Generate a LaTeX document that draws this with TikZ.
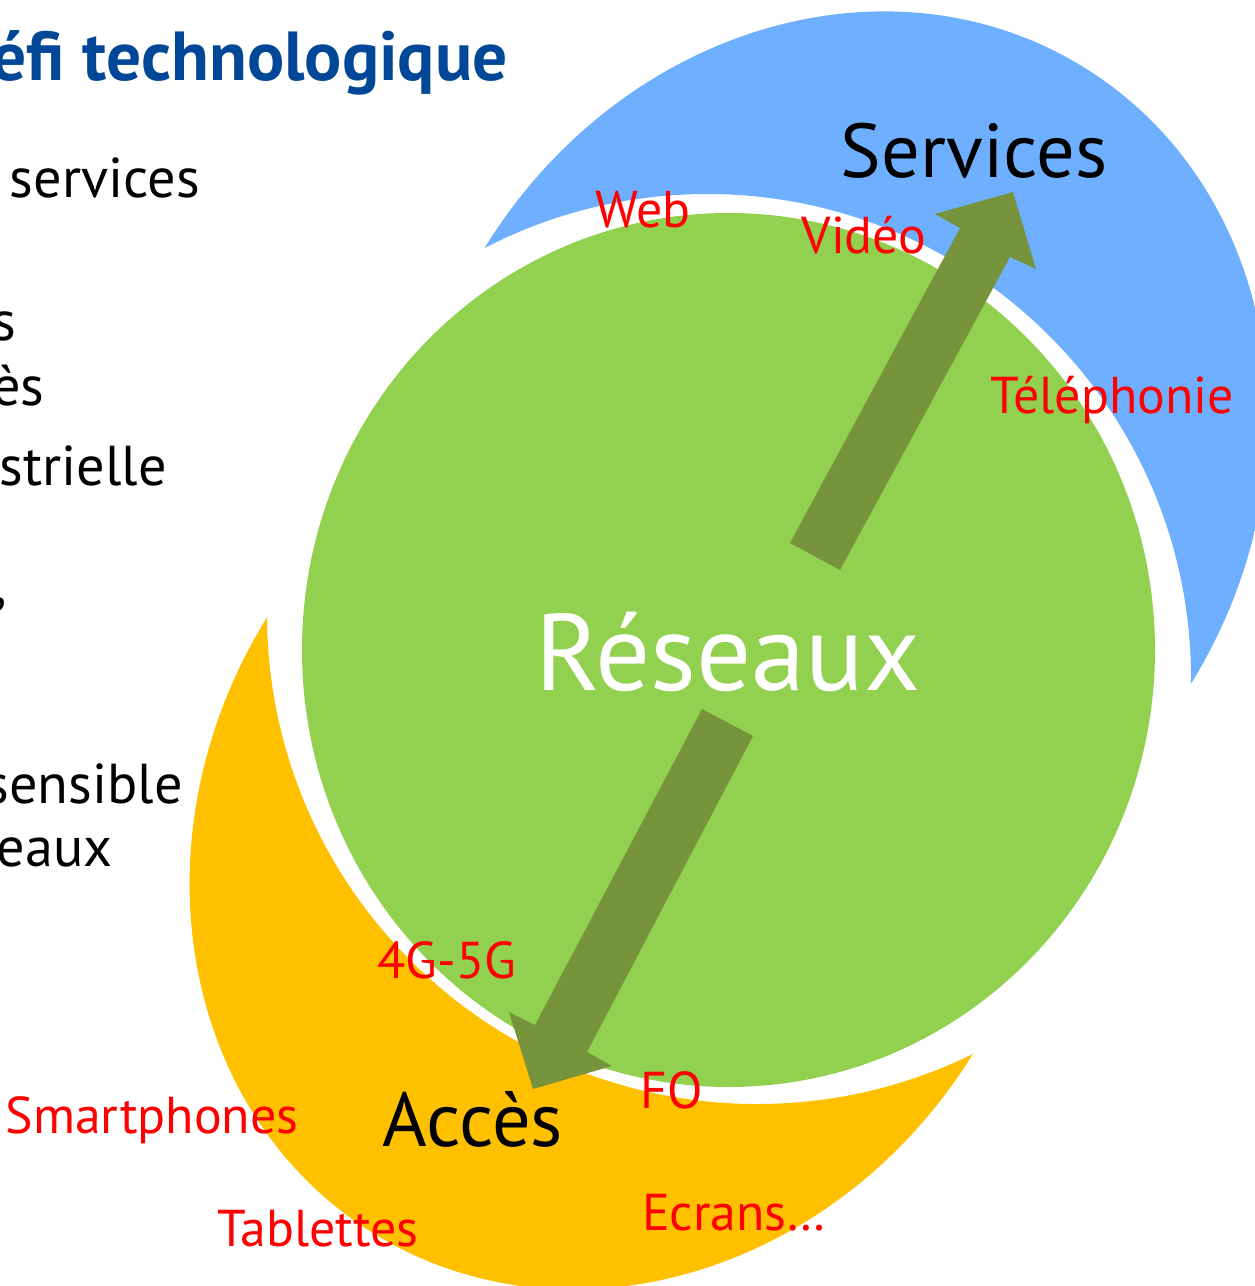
\documentclass[tikz,border=0pt]{standalone}
\usepackage{fontspec}
\setmainfont{PT Sans}
\definecolor{svcblue}{RGB}{110,176,255}
\definecolor{accgold}{RGB}{255,192,0}
\definecolor{netgreen}{RGB}{146,208,80}
\definecolor{arrowolive}{RGB}{119,147,60}
\definecolor{titleblue}{RGB}{0,71,151}
\begin{document}
\begin{tikzpicture}[x=0.02cm,y=-0.02cm,
  lbl/.style={text=red,font=\fontsize{29.5}{35}\selectfont,anchor=base,inner sep=0pt},
  big/.style={text=black,font=\fontsize{43.5}{50}\selectfont,anchor=base,inner sep=0pt},
  body/.style={text=black,font=\fontsize{32}{38}\selectfont,anchor=base east,inner sep=0pt},
  blockarrow/.style={fill=arrowolive}]
\useasboundingbox (0,0) rectangle (1255,1286);
\clip (0,0) rectangle (1255,1286);

% blue crescent (Services)
\begin{scope}
  \clip[rotate around={-31.6:(838,465.5)}] (838,465.5) ellipse [x radius=415, y radius=468];
  \fill[svcblue, even odd rule] (-10,-10) rectangle (1300,1300) (707,678) circle [radius=484];
\end{scope}
% gold crescent (Acces)
\begin{scope}
  \clip[rotate around={-31.8:(620,835.5)}] (620,835.5) ellipse [x radius=415, y radius=468];
  \fill[accgold, even odd rule] (-10,-10) rectangle (1300,1300) (757,614) circle [radius=490];
\end{scope}
% green disc (Reseaux)
\fill[netgreen] (728.5,650) ellipse [x radius=426.5, y radius=437];

% up block arrow
\coordinate (u1) at (790,543);
\coordinate (u2) at (960,228);
\coordinate (u3) at (935,214);
\coordinate (utip) at (1013,192);
\coordinate (u5) at (1036,269);
\coordinate (u6) at (1010,257);
\coordinate (u7) at (840,570);
\fill[blockarrow] (u1) -- (u2) -- (u3) -- (utip) -- (u5) -- (u6) -- (u7) -- cycle;
% down block arrow
\coordinate (d1) at (702,709);
\coordinate (d2) at (753,736);
\coordinate (d3) at (587,1052);
\coordinate (d4) at (612,1066);
\coordinate (dtip) at (533,1089);
\coordinate (d6) at (509,1012);
\coordinate (d7) at (535,1025);
\fill[blockarrow] (d1) -- (d2) -- (d3) -- (d4) -- (dtip) -- (d6) -- (d7) -- cycle;

% title and cut-off body text
\node[text=titleblue,font=\fontsize{39.5}{46}\selectfont\bfseries,anchor=base east,inner sep=0pt] (title) at (508,80) {éfi technologique};
\node[body] (b1) at (200,197) {services};
\node[body] (b2) at (17,340) {s};
\node[body] (b3) at (45,405) {ès};
\node[body] (b4) at (167,485) {strielle};
\node[body] (b5) at (8,603) {,};
\node[body] (b6) at (183,803) {sensible};
\node[body] (b7) at (113,866) {eaux};

% diagram labels
\node[big] (services) at (974,177) {Services};
\node[big] (acces) at (473,1146) {Accès};
\node[text=white,font=\fontsize{62}{72}\selectfont,anchor=base,inner sep=0pt] (reseaux) at (728,690) {Réseaux};
\node[lbl] (web) at (643,227) {Web};
\node[lbl] (video) at (864,253) {Vidéo};
\node[lbl] (tel) at (1112,413) {Téléphonie};
\node[lbl] (g45) at (447,978) {4G-5G};
\node[lbl] (fo) at (672,1108) {FO};
\node[lbl] (smart) at (152,1133) {Smartphones};
\node[lbl] (tab) at (318,1246) {Tablettes};
\node[lbl] (ecr) at (734,1230) {Ecrans…};
\end{tikzpicture}
\end{document}
